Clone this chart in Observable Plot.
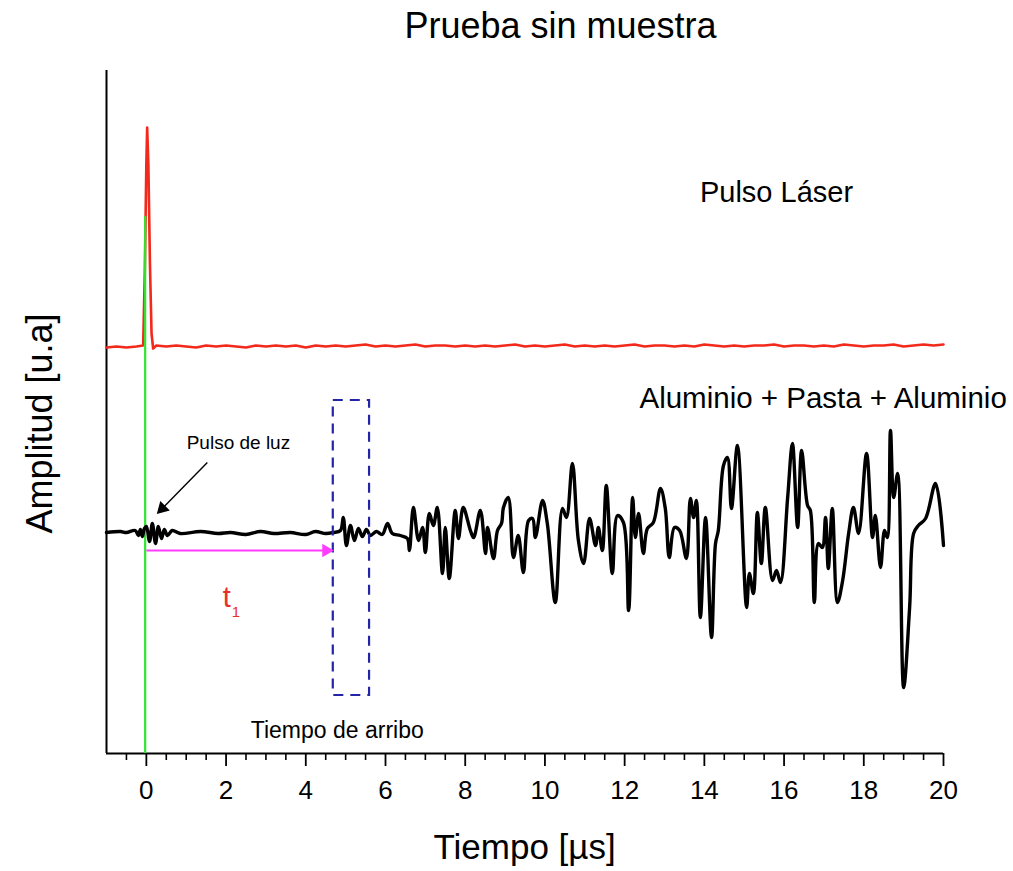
<!DOCTYPE html>
<html><head><meta charset="utf-8">
<script src="https://cdn.jsdelivr.net/npm/d3@7"></script>
<script src="https://cdn.jsdelivr.net/npm/@observablehq/plot@0.6"></script>
<style>body{margin:0;background:#fff}</style>
</head><body><div id="chart"></div>
<script>
// ---- data (tiempo en µs, amplitud en unidades arbitrarias) ----
const blackT = [-1.00,-0.65,-0.50,-0.28,-0.20,-0.15,-0.10,-0.05,0.00,0.08,0.15,0.23,0.30,0.38,0.45,0.53,0.65,0.85,
  1.36,1.80,2.11,2.50,2.86,3.20,3.61,4.00,4.24,4.50,4.69,4.87,4.94,5.02,5.12,5.22,5.32,5.42,5.52,5.62,5.77,5.92,
  6.05,6.17,6.37,6.55,6.60,6.70,6.83,6.93,7.00,7.10,7.20,7.30,7.43,7.50,7.60,7.75,7.83,7.95,8.13,8.21,8.38,8.51,
  8.56,8.71,8.81,8.91,8.96,9.08,9.21,9.33,9.46,9.59,9.69,9.76,9.94,10.06,10.26,10.44,10.54,10.69,10.84,10.97,
  11.12,11.27,11.34,11.44,11.54,11.69,11.82,11.97,12.10,12.20,12.27,12.35,12.47,12.57,12.72,12.90,13.02,13.12,
  13.25,13.38,13.55,13.65,13.73,13.80,13.90,14.03,14.18,14.28,14.35,14.48,14.58,14.68,14.83,15.06,15.13,15.23,
  15.33,15.43,15.53,15.71,15.81,15.91,16.09,16.21,16.34,16.44,16.59,16.66,16.76,16.86,16.96,17.04,17.11,17.21,
  17.34,17.47,17.62,17.74,17.87,18.07,18.22,18.29,18.42,18.52,18.59,18.67,18.75,18.85,19.00,19.15,19.25,19.37,
  19.55,19.80,20.00];
const blackA = [221,222,221,223,218,224,217,225,227,212,230,210,227,215,224,218,223,220,
  222,220,221,219,222,220,221,219,222,220,221,223,236,208,228,213,225,217,224,218,222,219,
  230,220,218,215,203,246,213,226,201,240,228,246,180,226,175,243,215,246,223,216,243,200,
  226,195,223,230,246,256,196,218,181,233,235,216,253,230,151,245,236,290,213,190,
  235,208,226,203,268,180,238,231,143,256,216,240,200,225,231,265,245,196,
  226,223,195,255,236,253,136,236,116,210,223,288,296,245,308,146,180,160,
  241,190,246,173,183,171,256,310,226,303,248,243,151,210,206,236,185,245,
  151,173,220,246,220,300,216,238,186,223,216,323,256,280,66,146,220,228,
  235,270,208];

const redT = [-1.00,-0.75,-0.50,-0.25,-0.08,-0.04,0.00,0.02,0.05,0.09,0.13,0.17,0.25,
  0.50,0.75,1.00,1.25,1.50,1.75,2.00,2.25,2.50,2.75,3.00,3.25,3.50,3.75,4.00,4.25,4.50,4.75,
  5.00,5.25,5.50,5.75,6.00,6.25,6.50,6.75,7.00,7.25,7.50,7.75,8.00,8.25,8.50,8.75,9.00,9.25,9.50,9.75,
  10.00,10.25,10.50,10.75,11.00,11.25,11.50,11.75,12.00,12.25,12.50,12.75,13.00,13.25,13.50,13.75,
  14.00,14.25,14.50,14.75,15.00,15.25,15.50,15.75,16.00,16.25,16.50,16.75,17.00,17.25,17.50,17.75,
  18.00,18.25,18.50,18.75,19.00,19.25,19.50,19.75,20.00];
const redA = [406,407,406,407,408,480,590,626,590,490,420,405,408,
  407,408,407,406,408,407,408,407,406,408,407,408,407,408,406,408,407,408,
  407,408,409,407,408,407,408,409,407,408,408,407,408,407,408,407,408,409,407,408,
  407,408,409,407,408,407,408,407,408,409,407,408,408,407,408,407,
  409,408,407,408,407,408,408,409,407,408,408,407,408,407,409,408,
  407,408,408,409,407,408,409,408,409];

const xTicks = [0,2,4,6,8,10,12,14,16,18,20];
const minorTicks = [-0.5,0.5,1,1.5,2.5,3,3.5,4.5,5,5.5,6.5,7,7.5,8.5,9,9.5,10.5,11,11.5,12.5,13,13.5,
  14.5,15,15.5,16.5,17,17.5,18.5,19,19.5];

const black = blackT.map((t, i) => ({t, a: blackA[i]}));
const red = redT.map((t, i) => ({t, a: redA[i]}));
const font = "Liberation Sans, Arial, Helvetica, sans-serif";
const lbl = d => d;

const chart = Plot.plot({
  width: 1013, height: 871,
  marginLeft: 106, marginRight: 70, marginTop: 70, marginBottom: 118,
  style: {fontFamily: font, background: "white", overflow: "visible"},
  x: {domain: [-1, 20]},
  y: {domain: [0, 683], axis: null},
  marks: [
    Plot.axisX({ticks: minorTicks, tickSize: 7, strokeWidth: 1.6, tickFormat: () => "", label: null}),
    Plot.axisX({ticks: xTicks, tickSize: 13, strokeWidth: 1.8, tickPadding: 14, fontSize: 26, label: null}),
    Plot.ruleY([0], {strokeWidth: 2}),
    Plot.ruleX([-1], {strokeWidth: 2}),
    Plot.line(red, {x: "t", y: "a", stroke: "#f2291b", strokeWidth: 2.6}),
    Plot.ruleX([-0.03], {y1: 0, y2: 537, stroke: "#2fe52f", strokeWidth: 2.2}),
    Plot.line(black, {x: "t", y: "a", stroke: "#000", strokeWidth: 3.4, strokeLinejoin: "round", curve: "catmull-rom"}),
    Plot.rect([0], {x1: 4.69, x2: 5.6, y1: 58, y2: 353, fill: "none", stroke: "#2424a6",
      strokeWidth: 2.2, strokeDasharray: "10,7"}),
    // magenta arrow t1
    Plot.link([0], {x1: 0, y1: 203, x2: 4.5, y2: 203, stroke: "#ff3cff", strokeWidth: 2}),
    Plot.dot([0], {x: 4.51, y: 203, symbol: "triangle", r: 5, fill: "#ff3cff", stroke: "none", rotate: 90}),
    // black arrow "Pulso de luz"
    Plot.link([0], {x1: 1.53, y1: 291, x2: 0.40, y2: 245, stroke: "#000", strokeWidth: 1.4}),
    Plot.dot([0], {x: 0.40, y: 245, symbol: "triangle", r: 5, fill: "#000", stroke: "none", rotate: 225}),
    // texts
    Plot.text(["Prueba sin muestra"], {x: 10.39, y: 727, text: lbl, fontSize: 36}),
    Plot.text(["Pulso Láser"], {x: 15.81, y: 561, text: lbl, fontSize: 29}),
    Plot.text(["Aluminio + Pasta + Aluminio"], {x: 16.98, y: 355, text: lbl, fontSize: 29.5}),
    Plot.text(["Pulso de luz"], {x: 2.31, y: 311, text: lbl, fontSize: 19}),
    Plot.text(["Tiempo de arribo"], {x: 4.79, y: 23, text: lbl, fontSize: 23}),
    Plot.text(["t"], {x: 2.02, y: 156, text: lbl, fontSize: 29, fill: "#e8302a"}),
    Plot.text(["1"], {x: 2.25, y: 141, text: lbl, fontSize: 15, fill: "#e8302a"}),
    Plot.text(["Tiempo [µs]"], {x: 9.49, y: -94, text: lbl, fontSize: 35}),
    Plot.text(["Amplitud [u.a]"], {x: -2.66, y: 330, text: lbl, fontSize: 36, rotate: -90})
  ]
});
document.getElementById("chart").appendChild(chart);
</script>
</body></html>
